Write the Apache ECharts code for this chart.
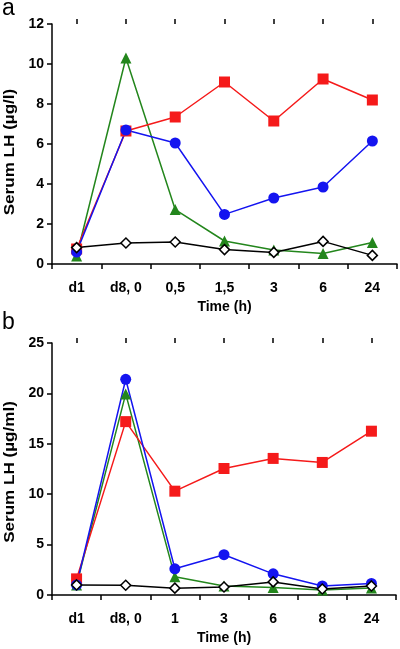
<!DOCTYPE html>
<html><head><meta charset="utf-8">
<script src="https://cdn.jsdelivr.net/npm/echarts@6/dist/echarts.min.js"></script>
<style>html,body{margin:0;padding:0;background:#fff}#c{width:400px;height:649px}</style>
</head><body><div id="c"></div>
<script>
// Panel a
const catsA = ['d1', 'd8, 0', '0,5', '1,5', '3', '6', '24'];
const redA = [0.75, 6.65, 7.35, 9.1, 7.15, 9.25, 8.2];
const blueA = [0.6, 6.7, 6.05, 2.48, 3.3, 3.85, 6.15];
const greenA = [0.4, 10.3, 2.72, 1.15, 0.7, 0.52, 1.07];
const blackA = [0.82, 1.05, 1.1, 0.72, 0.58, 1.13, 0.43];
const yTicksA = [0, 12, 2];
const yNameA = 'Serum LH (µg/l)';
// Panel b
const catsB = ['d1', 'd8, 0', '1', '3', '6', '8', '24'];
const redB = [1.6, 17.2, 10.3, 12.55, 13.55, 13.15, 16.25];
const blueB = [1.0, 21.4, 2.6, 4.0, 2.1, 0.9, 1.15];
const greenB = [1.0, 19.95, 1.8, 0.9, 0.75, 0.5, 0.7];
const blackB = [1.0, 0.97, 0.68, 0.8, 1.3, 0.6, 0.9];
const yTicksB = [0, 25, 5];
const yNameB = 'Serum LH (µg/ml)';
const xName = 'Time (h)';

const FONT = 'Liberation Sans, Arial, sans-serif';
const RED = '#f51a1a', BLUE = '#1414f0', GREEN = '#23861c', BLACK = '#000';

function xAxes(cats, gi) {
  const common = {
    type: 'category', data: cats, gridIndex: gi, boundaryGap: true,
  };
  return [
    Object.assign({}, common, {
      axisLine: {lineStyle: {color: '#000', width: 1.5}},
      axisTick: {show: true, interval: 0, alignWithLabel: false, length: 5, inside: false, lineStyle: {color: '#000', width: 1.5}},
      axisLabel: {interval: 0, color: '#000', fontFamily: FONT, fontWeight: 'bold', fontSize: 14, margin: 17},
      name: xName, nameLocation: 'middle', nameGap: 36,
      nameTextStyle: {color: '#000', fontFamily: FONT, fontWeight: 'bold', fontSize: 14}
    }),
    Object.assign({}, common, {
      axisLine: {show: false},
      axisTick: {show: true, interval: 0, alignWithLabel: true, length: 5, lineStyle: {color: '#000', width: 1.5}},
      axisLabel: {show: false}
    })
  ];
}
function yAxis(t, gi) {
  return {
    type: 'value', gridIndex: gi, min: t[0], max: t[1], interval: t[2],
    splitLine: {show: false},
    axisLine: {show: true, lineStyle: {color: '#000', width: 1.5}},
    axisTick: {show: true, length: 5, lineStyle: {color: '#000', width: 1.5}},
    axisLabel: {color: '#000', fontFamily: FONT, fontWeight: 'bold', fontSize: 14, margin: 8}
  };
}
function ser(data, xi, yi, color, symbol, size, fill) {
  return {
    type: 'line', data: data, xAxisIndex: xi, yAxisIndex: yi,
    symbol: symbol, symbolSize: size, showAllSymbol: true,
    lineStyle: {color: color, width: 1.5},
    itemStyle: {color: fill || color, borderColor: color, borderWidth: fill ? 1.5 : 0},
    animation: false
  };
}
function yName(text, cy) {
  return {
    type: 'text', x: 10, y: cy, rotation: Math.PI / 2, scaleX: 1.22, scaleY: 1,
    style: {text: text, font: 'bold 14px ' + FONT, fill: '#000', align: 'center', verticalAlign: 'middle'}
  };
}
const chart = echarts.init(document.getElementById('c'), null, {renderer: 'canvas'});
chart.setOption({
  animation: false,
  backgroundColor: '#fff',
  grid: [
    {left: 52, right: 3, top: 24, height: 240},
    {left: 52, right: 4, top: 343, height: 252}
  ],
  xAxis: xAxes(catsA, 0).concat(xAxes(catsB, 1)),
  yAxis: [yAxis(yTicksA, 0), yAxis(yTicksB, 1)],
  graphic: [
    {type: 'text', left: 2, top: -3, style: {text: 'a', font: '23px ' + FONT, fill: '#000'}},
    {type: 'text', left: 2, top: 311, style: {text: 'b', font: '23px ' + FONT, fill: '#000'}},
    yName(yNameA, 152),
    yName(yNameB, 472)
  ],
  series: [
    ser(greenA, 0, 0, GREEN, 'triangle', 11),
    ser(redA, 0, 0, RED, 'rect', 11),
    ser(blueA, 0, 0, BLUE, 'circle', 11),
    ser(blackA, 0, 0, BLACK, 'diamond', 10, '#fff'),
    ser(greenB, 2, 1, GREEN, 'triangle', 11),
    ser(redB, 2, 1, RED, 'rect', 11),
    ser(blueB, 2, 1, BLUE, 'circle', 11),
    ser(blackB, 2, 1, BLACK, 'diamond', 10, '#fff')
  ]
});
</script></body></html>
